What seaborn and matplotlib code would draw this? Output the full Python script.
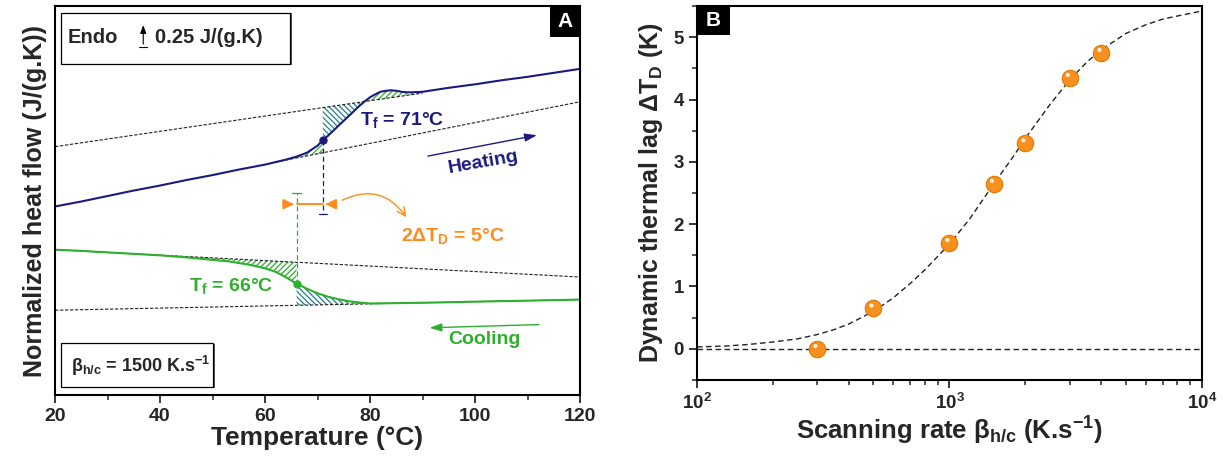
import numpy as np
import matplotlib
matplotlib.use("Agg")
import matplotlib.pyplot as plt
import seaborn as sns
from matplotlib.patches import Rectangle
from matplotlib.ticker import MultipleLocator, LogLocator, NullFormatter
from matplotlib import transforms

# ---- panel A: DSC curves (arbitrary heat flow units) ----
heat_T = [20, 25, 30, 35, 40, 45, 50, 55, 60, 62, 64, 66, 68, 70, 71, 72, 73, 74,
          75, 76, 77, 78, 79, 80, 81, 82, 83, 84, 85, 86, 87, 88, 90, 95, 100, 105,
          110, 115, 120]
heat_y = [1.89, 1.94, 1.995, 2.05, 2.10, 2.155, 2.205, 2.26, 2.31, 2.335, 2.36, 2.39,
          2.43, 2.50, 2.555, 2.60, 2.65, 2.70, 2.75, 2.80, 2.85, 2.90, 2.945, 2.985,
          3.015, 3.04, 3.05, 3.055, 3.05, 3.04, 3.035, 3.035, 3.04, 3.08, 3.115,
          3.155, 3.19, 3.23, 3.27]
cool_T = [20, 25, 30, 35, 40, 45, 50, 53, 56, 58, 60, 62, 64, 66, 68, 70, 72, 74, 76,
          78, 80, 85, 90, 95, 100, 105, 110, 115, 120]
cool_y = [1.457, 1.445, 1.43, 1.415, 1.40, 1.38, 1.355, 1.34, 1.315, 1.295, 1.27,
          1.235, 1.18, 1.117, 1.065, 1.02, 0.985, 0.96, 0.94, 0.927, 0.918, 0.921,
          0.925, 0.93, 0.936, 0.941, 0.946, 0.951, 0.957]

heat_liquid_T = [20, 90]
heat_liquid_y = [2.49, 3.027]
heat_glass_T = [62, 120]
heat_glass_y = [2.335, 2.94]
cool_liquid_T = [20, 120]
cool_liquid_y = [1.457, 1.183]
cool_glass_T = [20, 120]
cool_glass_y = [0.85, 0.957]

tf_heat, tf_heat_y = 71, 2.555
tf_cool, tf_cool_y = 66, 1.117

# ---- panel B: thermal lag vs scanning rate ----
rates = [300, 500, 1000, 1500, 2000, 3000, 4000]
lag = [0.0, 0.65, 1.7, 2.65, 3.3, 4.35, 4.75]
fit_rates = [100, 130, 160, 200, 250, 300, 350, 400, 500, 600, 700, 800, 1000, 1200,
             1500, 1800, 2000, 2500, 3000, 3500, 4000, 5000, 6000, 7000, 8000, 10000]
fit_lag = [0.03, 0.045, 0.07, 0.11, 0.16, 0.23, 0.31, 0.40, 0.60, 0.82, 1.05, 1.27,
           1.68, 2.08, 2.65, 3.10, 3.38, 3.92, 4.32, 4.60, 4.80, 5.06, 5.20, 5.29,
           5.34, 5.42]

NAVY = "#1a1a80"
GREEN = "#2db02d"
TEAL = "#23808e"
ORANGE = "#ff8c1a"

sns.set_theme(style="ticks")
plt.rcParams["font.family"] = ["Liberation Sans", "DejaVu Sans"]
plt.rcParams["font.weight"] = "bold"
plt.rcParams["axes.labelweight"] = "bold"
plt.rcParams["mathtext.fontset"] = "custom"
plt.rcParams["mathtext.rm"] = "Liberation Sans:bold"
plt.rcParams["mathtext.bf"] = "Liberation Sans:bold"
plt.rcParams["mathtext.it"] = "Liberation Sans:bold"
plt.rcParams["mathtext.default"] = "bf"
plt.rcParams["hatch.linewidth"] = 0.9

fig = plt.figure(figsize=(12.23, 4.62), dpi=100)
axA = fig.add_axes([0.045, 0.145, 0.4293, 0.842])
axB = fig.add_axes([0.5699, 0.1775, 0.4129, 0.8095])

# ================= panel A =================
ax = axA
dash = dict(color="#222222", lw=0.8, linestyle=(0, (3, 1.5)))
for xs, ys in [(heat_liquid_T, heat_liquid_y), (heat_glass_T, heat_glass_y),
               (cool_liquid_T, cool_liquid_y), (cool_glass_T, cool_glass_y)]:
    ax.plot(xs, ys, **dash)

hT, hY = np.array(heat_T, float), np.array(heat_y)
cT, cY = np.array(cool_T, float), np.array(cool_y)


def hatch(xs, y1, y2, color, pattern):
    ax.fill_between(xs, y1, y2, facecolor="none", edgecolor=color,
                    hatch=pattern, linewidth=0)


m = (hT >= 62) & (hT <= tf_heat)
hatch(hT[m], hY[m], np.interp(hT[m], heat_glass_T, heat_glass_y), GREEN, "//////")
m = (hT >= tf_heat) & (hT <= 79)
hatch(hT[m], hY[m], np.interp(hT[m], heat_liquid_T, heat_liquid_y), TEAL, "\\\\\\\\\\\\")
m = (hT >= 79) & (hT <= 90)
hatch(hT[m], hY[m], np.interp(hT[m], heat_liquid_T, heat_liquid_y), GREEN, "//////")
m = (cT >= 40) & (cT <= tf_cool)
hatch(cT[m], cY[m], np.interp(cT[m], cool_liquid_T, cool_liquid_y), GREEN, "//////")
m = (cT >= tf_cool) & (cT <= 80)
hatch(cT[m], cY[m], np.interp(cT[m], cool_glass_T, cool_glass_y), TEAL, "\\\\\\\\\\\\")

sns.lineplot(x=heat_T, y=heat_y, ax=ax, color=NAVY, lw=1.5, sort=False, estimator=None)
sns.lineplot(x=cool_T, y=cool_y, ax=ax, color=GREEN, lw=1.5, sort=False, estimator=None)
ax.plot([tf_heat], [tf_heat_y], "o", color=NAVY, ms=5)
ax.plot([tf_cool], [tf_cool_y], "o", color=GREEN, ms=5)

# Tf drop lines with caps
ax.plot([tf_heat, tf_heat], [tf_heat_y, 1.81], color=NAVY, lw=0.9, linestyle=(0, (4, 2.5)))
ax.plot([tf_heat - 0.8, tf_heat + 0.8], [1.81, 1.81], color=NAVY, lw=0.9)
ax.plot([tf_cool, tf_cool], [tf_cool_y, 2.03], color=GREEN, lw=0.9, linestyle=(0, (4, 2.5)))
ax.plot([tf_cool - 0.8, tf_cool + 0.8], [2.03, 2.03], color=GREEN, lw=0.9)

# 2 dT_D marker
yo = 1.913
ax.plot([tf_cool, tf_heat], [yo, yo], color=ORANGE, lw=1.4)
ax.annotate("", xy=(tf_cool, yo), xytext=(tf_cool - 1.6, yo),
            arrowprops=dict(arrowstyle="-|>,head_length=0.5,head_width=0.25", color=ORANGE, lw=1.4))
ax.annotate("", xy=(tf_heat, yo), xytext=(tf_heat + 1.6, yo),
            arrowprops=dict(arrowstyle="-|>,head_length=0.5,head_width=0.25", color=ORANGE, lw=1.4))
ax.annotate("", xy=(87.2, 1.76), xytext=(74.2, 1.94),
            arrowprops=dict(arrowstyle="->,head_length=0.5,head_width=0.25", color=ORANGE,
                            lw=1.0, connectionstyle="arc3,rad=-0.45"))

ax.text(78, 2.76, "T$_f$ = 71°C", color=NAVY, fontsize=14, va="center", ha="left")
ax.text(45.5, 1.09, "T$_f$ = 66°C", color=GREEN, fontsize=14, va="center", ha="left")
ax.text(95.8, 1.59, "2ΔT$_D$ = 5°C", color=ORANGE, fontsize=14, va="center", ha="center")

ax.annotate("", xy=(112.3, 2.61), xytext=(90.5, 2.39),
            arrowprops=dict(arrowstyle="-|>,head_length=0.6,head_width=0.2", color=NAVY, lw=1.0))
ax.text(101.5, 2.33, "Heating", color=NAVY, fontsize=14, rotation=10,
        ha="center", va="center")
ax.annotate("", xy=(90.8, 0.673), xytext=(112.7, 0.707),
            arrowprops=dict(arrowstyle="-|>,head_length=0.6,head_width=0.2", color=GREEN, lw=1.0))
ax.text(101.8, 0.56, "Cooling", color=GREEN, fontsize=14, ha="center", va="center")

# boxes
ax.add_patch(Rectangle((0.014, 0.848), 0.437, 0.134, transform=ax.transAxes,
                       facecolor="#555555", edgecolor="none", zorder=4))
ax.add_patch(Rectangle((0.011, 0.851), 0.437, 0.131, transform=ax.transAxes,
                       facecolor="white", edgecolor="black", lw=0.9, zorder=5))
ax.text(0.024, 0.918, "Endo", transform=ax.transAxes, fontsize=14.5, va="center", zorder=6)
ax.annotate("", xy=(0.168, 0.958), xytext=(0.168, 0.895), xycoords="axes fraction",
            arrowprops=dict(arrowstyle="-|>,head_length=0.4,head_width=0.15",
                            color="black", lw=0.8), zorder=6)
ax.plot([0.16, 0.176], [0.895, 0.895], transform=ax.transAxes, color="black",
        lw=0.8, zorder=6)
ax.text(0.19, 0.918, "0.25 J/(g.K)", transform=ax.transAxes, fontsize=14.5, va="center", zorder=6)

ax.add_patch(Rectangle((0.014, 0.018), 0.29, 0.113, transform=ax.transAxes,
                       facecolor="#555555", edgecolor="none", zorder=4))
ax.add_patch(Rectangle((0.011, 0.021), 0.29, 0.113, transform=ax.transAxes,
                       facecolor="white", edgecolor="black", lw=0.9, zorder=5))
ax.text(0.03, 0.075, "β$_{h/c}$ = 1500 K.s$^{-1}$", transform=ax.transAxes,
        fontsize=13, va="center", ha="left", zorder=6)

ax.add_patch(Rectangle((0.943, 0.92), 0.057, 0.08, transform=ax.transAxes,
                       facecolor="black", edgecolor="none", zorder=5))
ax.text(0.9715, 0.96, "A", transform=ax.transAxes, color="white", fontsize=15,
        ha="center", va="center", zorder=6)

ax.set_xlim(20, 120)
ax.set_ylim(0, 3.9)
ax.set_yticks([])
ax.xaxis.set_major_locator(MultipleLocator(20))
ax.xaxis.set_minor_locator(MultipleLocator(10))
ax.set_xlabel("Temperature (°C)", fontsize=19, labelpad=1)
ax.set_ylabel("Normalized heat flow (J/(g.K))", fontsize=18, labelpad=6)
ax.tick_params(axis="x", which="major", direction="out", length=6, width=1.3,
               labelsize=14, pad=3)
ax.tick_params(axis="x", which="minor", direction="out", length=3.5, width=1.1)
for s in ax.spines.values():
    s.set_linewidth(1.5)
    s.set_color("black")

# ================= panel B =================
ax = axB
ax.axhline(0, color="#222222", lw=1.0, linestyle=(0, (4, 2.5)))
sns.lineplot(x=fit_rates, y=fit_lag, ax=ax, color="#222222", lw=1.0,
             linestyle=(0, (4, 2.5)), sort=False, estimator=None)
sns.scatterplot(x=rates, y=lag, ax=ax, s=140, color="#f7901e", edgecolor="#e07800",
                linewidth=0.8, zorder=5)
hl = transforms.offset_copy(ax.transData, fig=fig, x=-1.5, y=2.0, units="points")
ax.scatter(rates, lag, s=9, color="#fff4e0", edgecolor="none", transform=hl, zorder=6)

ax.set_xscale("log")
ax.set_xlim(100, 10000)
ax.set_ylim(-0.5, 5.5)
ax.yaxis.set_major_locator(MultipleLocator(1))
ax.yaxis.set_minor_locator(MultipleLocator(0.5))
ax.xaxis.set_minor_locator(LogLocator(base=10, subs=np.arange(2, 10)))
ax.xaxis.set_minor_formatter(NullFormatter())
ax.tick_params(which="major", direction="out", length=6, width=1.3, labelsize=13.5)
ax.tick_params(which="minor", direction="out", length=3.5, width=1.1)
ax.set_xlabel("Scanning rate β$_{h/c}$ (K.s$^{-1}$)", fontsize=18.5, labelpad=1)
ax.set_ylabel("Dynamic thermal lag ΔT$_D$ (K)", fontsize=18, labelpad=6)
ax.add_patch(Rectangle((0, 0.922), 0.065, 0.078, transform=ax.transAxes,
                       facecolor="black", edgecolor="none", zorder=5))
ax.text(0.0325, 0.961, "B", transform=ax.transAxes, color="white", fontsize=15,
        ha="center", va="center", zorder=6)
for s in ax.spines.values():
    s.set_linewidth(1.5)
    s.set_color("black")

fig.savefig("out.png", dpi=100)
